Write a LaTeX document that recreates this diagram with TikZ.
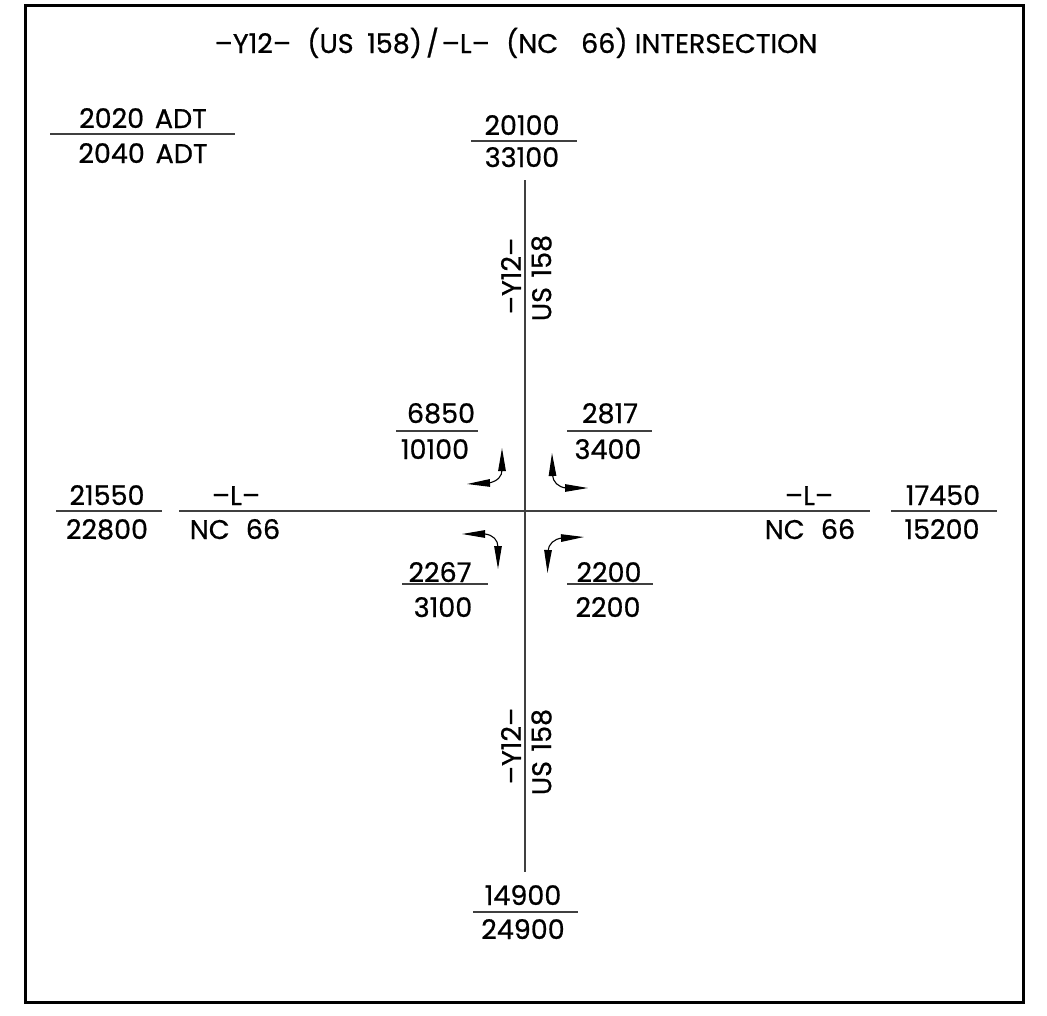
\documentclass[tikz,border=0pt]{standalone}
\usepackage{fontspec}
\newfontfamily\lblfont{Poppins}[FakeBold=0.7]
\usetikzlibrary{arrows.meta}
\begin{document}
\begin{tikzpicture}[x=1pt,y=-1pt,
  lbl/.style={inner sep=0pt, anchor=base, font=\lblfont\fontsize{27}{29}\selectfont},
  vlbl/.style={inner sep=0pt, anchor=center, rotate=90, font=\lblfont\fontsize{27}{29}\selectfont},
  road/.style={line width=1.8pt, draw=black!75},
  frac/.style={line width=1.4pt, draw=black!75},
  turn/.style={line width=1.1pt, {Triangle[length=23pt,width=7.5pt]}-{Triangle[length=23pt,width=7.5pt]}},
]
\useasboundingbox (0,0) rectangle (1047,1015);
\draw[line width=3pt] (25,5) rectangle (1023,1002);

% title
\node[lbl] (title) at (516,53) {–Y12–\hspace{0.6em}(US\hspace{0.5em}158)\hspace{0.15em}/\hspace{0.1em}–L–\hspace{0.6em}(NC\hspace{0.85em}66) INTERSECTION};

% roads
\coordinate (vt) at (525,180); \coordinate (vb) at (525,872);
\coordinate (hl) at (179,511); \coordinate (hr) at (870,511);
\draw[road] (vt) -- (vb);
\draw[road] (hl) -- (hr);

% legend
\node[lbl] (adt1) at (143,128) {2020\hspace{0.4em}ADT};
\node[lbl] (adt2) at (143,163) {2040\hspace{0.4em}ADT};
\coordinate (adtl) at (50,134); \coordinate (adtr) at (235,134);
\draw[frac] (adtl) -- (adtr);

% north
\node[lbl] (n1) at (522,135) {20100};
\node[lbl] (n2) at (522,167) {33100};
\coordinate (nl) at (471,141); \coordinate (nr) at (577,141);
\draw[frac] (nl) -- (nr);

% south
\node[lbl] (s1) at (523,905) {14900};
\node[lbl] (s2) at (523,939) {24900};
\coordinate (sl) at (473,912); \coordinate (sr) at (578,912);
\draw[frac] (sl) -- (sr);

% west
\node[lbl] (w1) at (107,505) {21550};
\node[lbl] (w2) at (107,539) {22800};
\coordinate (wl) at (56,511); \coordinate (wr) at (162,511);
\draw[frac] (wl) -- (wr);
\node[lbl] (wL) at (236,505) {–L–};
\node[lbl] (wNC) at (235,539) {NC\hspace{0.6em}66};

% east
\node[lbl] (eL) at (809,505) {–L–};
\node[lbl] (eNC) at (810,539) {NC\hspace{0.6em}66};
\node[lbl] (e1) at (943,505) {17450};
\node[lbl] (e2) at (942,539) {15200};
\coordinate (el) at (891,511); \coordinate (er) at (997,511);
\draw[frac] (el) -- (er);

% vertical road labels
\node[vlbl] (ny) at (511,276) {–Y12–};
\node[vlbl] (nus) at (541.5,278) {US\hspace{0.35em}158};
\node[vlbl] (sy) at (511,746) {–Y12–};
\node[vlbl] (sus) at (541.5,752) {US\hspace{0.35em}158};

% turning volumes
\node[lbl] (nw1) at (441,423) {6850};
\node[lbl] (nw2) at (435,459) {10100};
\coordinate (nwl) at (396,431); \coordinate (nwr) at (478,431);
\draw[frac] (nwl) -- (nwr);

\node[lbl] (ne1) at (610,423) {2817};
\node[lbl] (ne2) at (608,459) {3400};
\coordinate (nel) at (567,431); \coordinate (ner) at (652,431);
\draw[frac] (nel) -- (ner);

\node[lbl] (sw1) at (440,582) {2267};
\node[lbl] (sw2) at (443,617) {3100};
\coordinate (swl) at (402,584); \coordinate (swr) at (488,584);
\draw[frac] (swl) -- (swr);

\node[lbl] (se1) at (609,582) {2200};
\node[lbl] (se2) at (608,617) {2200};
\coordinate (sel) at (567,584); \coordinate (ser) at (653,584);
\draw[frac] (sel) -- (ser);

% turn arrows
\coordinate (a1a) at (467,484); \coordinate (a1b) at (502,448);
\draw[turn] (a1a) -- (489,483) .. controls (498,481) and (502,476) .. (502,470) -- (a1b);
\coordinate (a2a) at (552,453); \coordinate (a2b) at (588,488);
\draw[turn] (a2a) -- (552.5,475) .. controls (553,482) and (558,487) .. (566,488) -- (a2b);
\coordinate (a3a) at (462,534); \coordinate (a3b) at (498,569);
\draw[turn] (a3a) -- (485,534) .. controls (493,535) and (498,540) .. (498,547) -- (a3b);
\coordinate (a4a) at (584,537); \coordinate (a4b) at (547.5,573);
\draw[turn] (a4a) -- (562,538) .. controls (554,539) and (548.5,544) .. (548,551) -- (a4b);
\end{tikzpicture}
\end{document}
